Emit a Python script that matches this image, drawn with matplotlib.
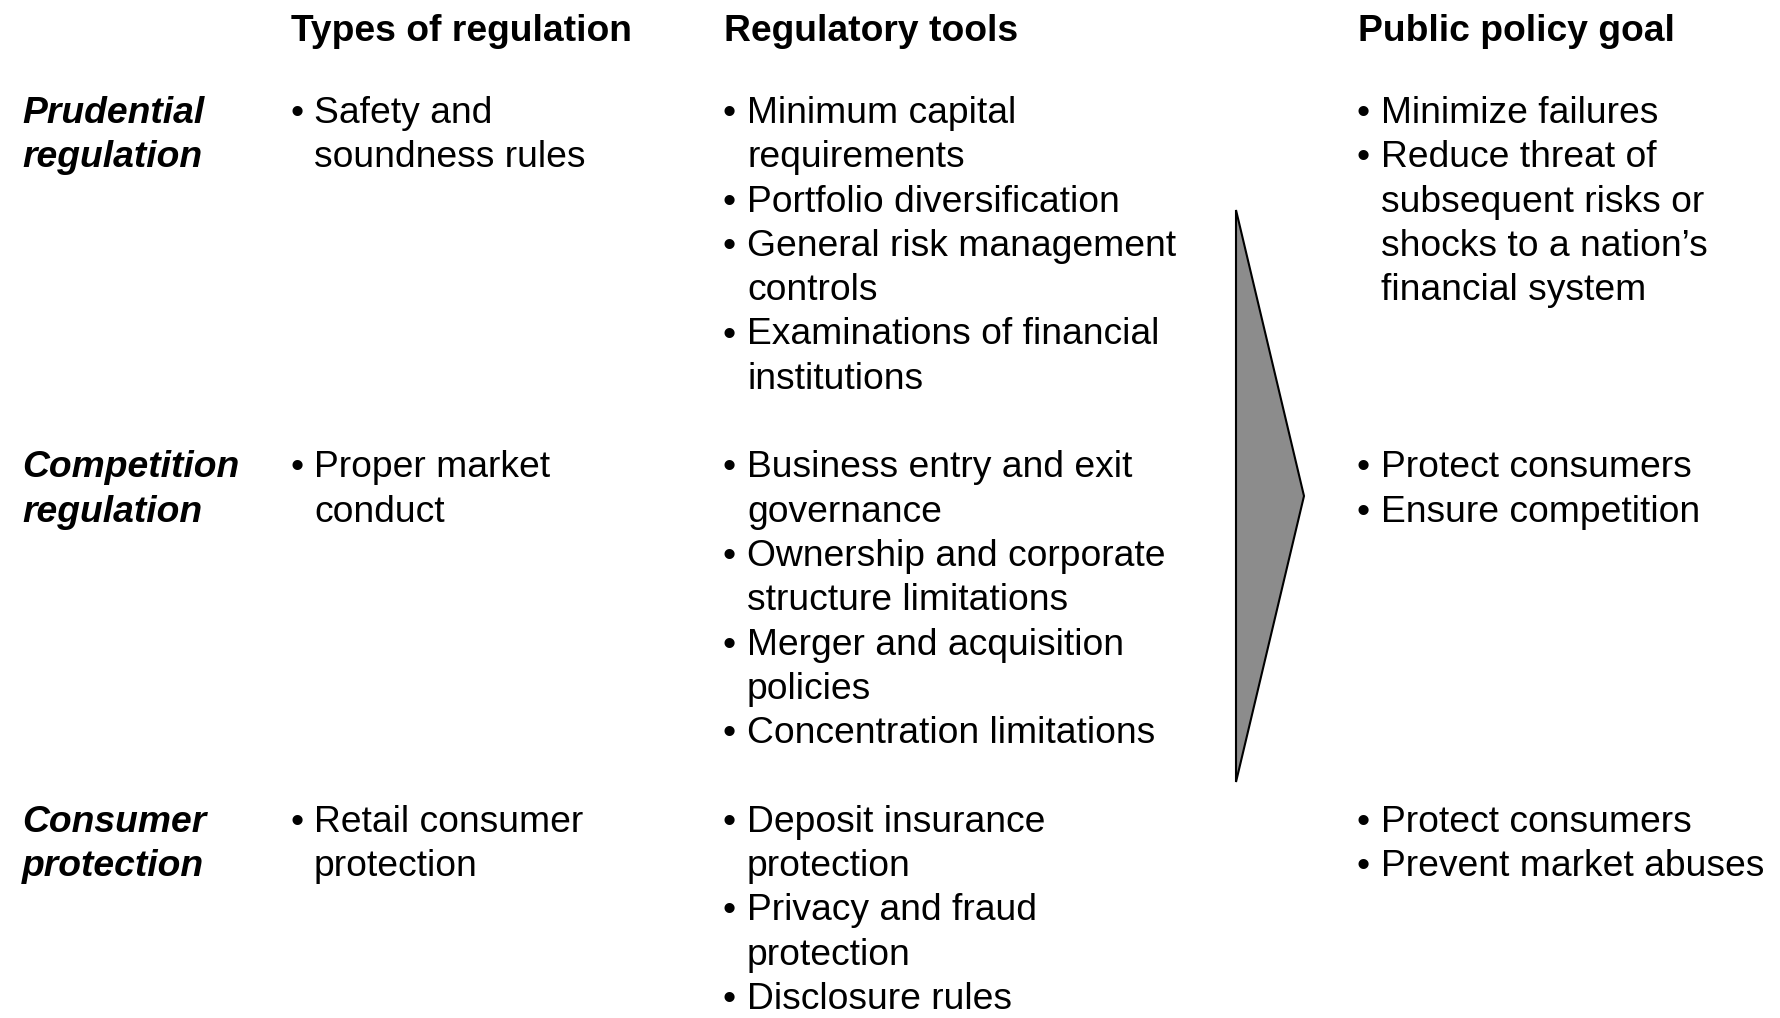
import matplotlib.pyplot as plt
from matplotlib.patches import Polygon

plt.rcParams['font.family'] = ['Liberation Sans', 'DejaVu Sans']

# Column headers
headers = ["Types of regulation", "Regulatory tools", "Public policy goal"]

# Row labels (one per regulation group)
row_labels = [["Prudential", "regulation"],
              ["Competition", "regulation"],
              ["Consumer", "protection"]]

# Bullet items per row; each item is a list of wrapped lines
types = [
    [["Safety and", "soundness rules"]],
    [["Proper market", "conduct"]],
    [["Retail consumer", "protection"]],
]
tools = [
    [["Minimum capital", "requirements"],
     ["Portfolio diversification"],
     ["General risk management", "controls"],
     ["Examinations of financial", "institutions"]],
    [["Business entry and exit", "governance"],
     ["Ownership and corporate", "structure limitations"],
     ["Merger and acquisition", "policies"],
     ["Concentration limitations"]],
    [["Deposit insurance", "protection"],
     ["Privacy and fraud", "protection"],
     ["Disclosure rules"]],
]
goals = [
    [["Minimize failures"],
     ["Reduce threat of", "subsequent risks or",
      "shocks to a nation\u2019s", "financial system"]],
    [["Protect consumers"],
     ["Ensure competition"]],
    [["Protect consumers"],
     ["Prevent market abuses"]],
]

# row start line index in the text grid
row_start = [0, 8, 16]

W, H = 1780, 1018
fig = plt.figure(figsize=(W / 100, H / 100), dpi=100)
ax = fig.add_axes([0, 0, 1, 1])
ax.set_xlim(0, W)
ax.set_ylim(H, 0)
ax.axis('off')

fs = 26.8
base0 = 123
step = 44.3

def line_y(k):
    return base0 + step * k

# headers
for x, h in zip([291, 724, 1358], headers):
    ax.text(x, 41, h, fontsize=fs, fontweight='bold', va='baseline', ha='left')

def draw_bullets(items, bx, tx, start):
    k = start
    for item in items:
        ax.text(bx, line_y(k), "\u2022", fontsize=fs, va='baseline', ha='left')
        for ln in item:
            ax.text(tx, line_y(k), ln, fontsize=fs, va='baseline', ha='left')
            k += 1

for r in range(3):
    s = row_start[r]
    for i, ln in enumerate(row_labels[r]):
        ax.text(22, line_y(s + i), ln, fontsize=fs, fontweight='bold',
                fontstyle='italic', va='baseline', ha='left')
    draw_bullets(types[r], 290, 314, s)
    draw_bullets(tools[r], 722, 747, s)
    draw_bullets(goals[r], 1356, 1381, s)

# big arrow
arrow = Polygon([(1236, 210), (1304, 496), (1236, 782)], closed=True,
                facecolor='#8c8c8c', edgecolor='black', linewidth=1.5)
ax.add_patch(arrow)

fig.savefig("out.png", dpi=100, facecolor='white')
